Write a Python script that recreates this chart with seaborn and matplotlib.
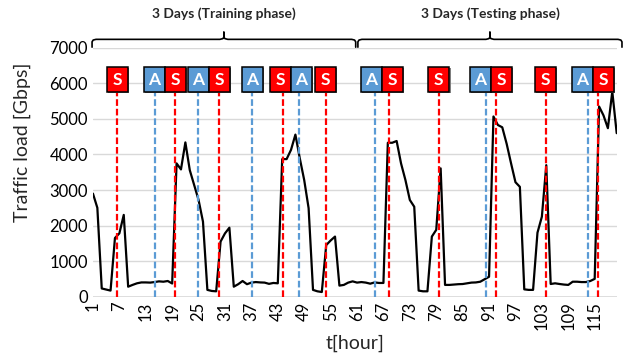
import numpy as np
import pandas as pd
import seaborn as sns
import matplotlib.pyplot as plt
from matplotlib.patches import Rectangle

# Traffic load per hour
hours = list(range(1, 121))
traffic = [2900, 2500, 230, 200, 170, 1650, 1780, 2300, 280, 330,
           375, 400, 400, 395, 410, 430, 420, 440, 370, 3750,
           3580, 4340, 3560, 3140, 2720, 2110, 190, 160, 150, 1550,
           1780, 1940, 280, 350, 440, 350, 395, 410, 400, 395,
           360, 385, 375, 3870, 3870, 4130, 4560, 3890, 3280, 2490,
           190, 150, 130, 1450, 1580, 1690, 310, 330, 395, 430,
           395, 410, 395, 365, 400, 385, 385, 4330, 4330, 4380,
           3750, 3280, 2720, 2530, 170, 150, 150, 1690, 1880, 3610,
           330, 330, 340, 350, 355, 375, 395, 400, 420, 490,
           560, 5070, 4830, 4765, 4300, 3750, 3220, 3090, 205, 190,
           190, 1800, 2250, 3700, 356, 375, 356, 340, 330, 420,
           420, 410, 410, 440, 500, 5350, 5100, 4740, 5770, 4600]

# events: S (red) and A (blue), hour where the dashed line is drawn
event_hours = [6.5, 15.0, 19.7, 24.9, 29.7, 37.2, 44.1, 47.9, 53.9,
               65.0, 68.2, 79.6, 90.2, 92.5, 103.9, 113.5, 115.7]
event_types = ['S', 'A', 'S', 'A', 'S', 'A', 'S', 'A', 'S',
               'A', 'S', 'S', 'A', 'S', 'S', 'A', 'S']

phase_names = ['3 Days (Training phase)', '3 Days (Testing phase)']
phase_spans = [(0.8, 60.7), (61.2, 121.2)]

colors = {'S': '#FF0000', 'A': '#5B9BD5'}

df = pd.DataFrame({'hour': hours, 'traffic': traffic})

sns.set_theme(style='white')
plt.rcParams['font.family'] = ['Lato', 'DejaVu Sans']

fig = plt.figure(figsize=(6.28, 3.6), dpi=100)
ax = fig.add_axes([0.148, 0.176, 0.834, 0.691])

sns.lineplot(data=df, x='hour', y='traffic', color='black', linewidth=1.6, ax=ax, zorder=3)

ax.set_xlim(1, 120)
ax.set_ylim(0, 7000)
ax.set_yticks(range(0, 7001, 1000))
ax.set_xticks(range(1, 120, 6))
ax.set_xticklabels([str(t) for t in range(1, 120, 6)], rotation=90)
ax.tick_params(axis='both', labelsize=12, length=0, colors='black')
ax.yaxis.grid(True, color='#D9D9D9', linewidth=1)
ax.xaxis.grid(False)
for s in ax.spines.values():
    s.set_visible(False)
ax.axhline(0, color='#D9D9D9', linewidth=1.2, zorder=1)

ax.set_xlabel('')
ax.set_ylabel('')
fig.text(22 / 628, 1 - 142 / 360, 'Traffic load [Gbps]', rotation=90,
         ha='center', va='center', fontsize=14)
fig.text(355 / 628, 1 - 343 / 360, 't[hour]', ha='center', va='center', fontsize=14)

# event boxes, pushed apart when they would overlap
box_w = 4.78
box_bottom, box_top = 5760, 6460
centers = list(event_hours)
for i in range(1, len(centers)):
    if centers[i] - centers[i - 1] < box_w:
        mid = (event_hours[i] + event_hours[i - 1]) / 2
        centers[i - 1] = mid - box_w / 2
        centers[i] = mid + box_w / 2

for h, c, t in zip(event_hours, centers, event_types):
    ax.vlines(h, 0, box_bottom, colors=colors[t], linewidth=1.6,
              linestyles=(0, (3, 1.3)), zorder=4)
    ax.add_patch(Rectangle((c - box_w / 2 + 0.25, box_bottom - 30), box_w, box_top - box_bottom,
                           facecolor='#7F7F7F', edgecolor='none', zorder=4, clip_on=False))
    ax.add_patch(Rectangle((c - box_w / 2, box_bottom), box_w, box_top - box_bottom,
                           facecolor=colors[t], edgecolor='black', linewidth=1.1,
                           zorder=5, clip_on=False))
    ax.text(c, (box_bottom + box_top) / 2, t, color='white', fontsize=12.5,
            fontweight='bold', ha='center', va='center', zorder=6)

# curly braces over the two phases
for name, (x0, x1) in zip(phase_names, phase_spans):
    xc = (x0 + x1) / 2
    bx = [x0, x0, x0 + 0.25, x0 + 0.9, xc - 0.9, xc - 0.25, xc, xc,
          xc, xc + 0.25, xc + 0.9, x1 - 0.9, x1 - 0.25, x1, x1]
    by = [7020, 7170, 7220, 7240, 7240, 7260, 7300, 7440,
          7300, 7260, 7240, 7240, 7220, 7170, 7020]
    ax.plot(bx, by, color='black', linewidth=1.2, clip_on=False, zorder=6)
    ax.text(xc, 7950, name, ha='center', va='center', fontsize=10,
            fontweight='bold', clip_on=False)

fig.savefig('out.png', dpi=100)
